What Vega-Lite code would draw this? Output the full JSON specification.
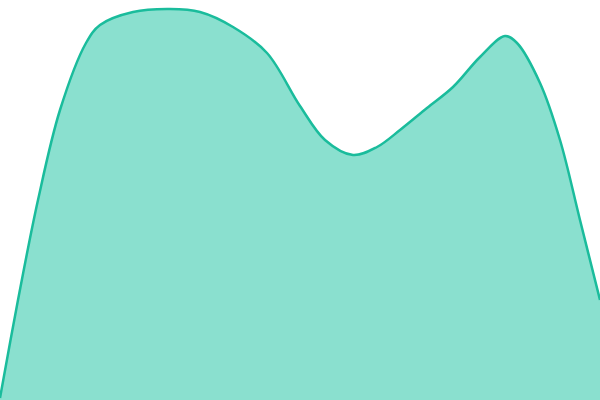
{
  "$schema": "https://vega.github.io/schema/vega-lite/v6.json",
  "autosize": {"type": "none"},
  "width": 600,
  "height": 400,
  "padding": 0,
  "background": "white",
  "config": {"view": {"stroke": null}},
  "data": {"values": [
    {"x": 0, "y": 2},
    {"x": 18, "y": 100},
    {"x": 38, "y": 200},
    {"x": 60, "y": 290},
    {"x": 86, "y": 357},
    {"x": 100, "y": 375},
    {"x": 133, "y": 388},
    {"x": 170, "y": 391},
    {"x": 200, "y": 388},
    {"x": 233, "y": 373},
    {"x": 267, "y": 347},
    {"x": 300, "y": 294},
    {"x": 325, "y": 260},
    {"x": 353, "y": 245},
    {"x": 377, "y": 253},
    {"x": 400, "y": 270},
    {"x": 427, "y": 292},
    {"x": 453, "y": 313},
    {"x": 480, "y": 343},
    {"x": 505, "y": 364},
    {"x": 517, "y": 357},
    {"x": 540, "y": 317},
    {"x": 560, "y": 260},
    {"x": 580, "y": 180},
    {"x": 600, "y": 100}
  ]},
  "mark": {"type": "area", "interpolate": "catmull-rom", "color": "#8ae0cf", "opacity": 1, "fillOpacity": 1, "line": {"color": "#1abc9c", "strokeWidth": 2.5}},
  "encoding": {
    "x": {"field": "x", "type": "quantitative", "scale": {"domain": [0, 600], "nice": false, "zero": false}, "axis": null},
    "y": {"field": "y", "type": "quantitative", "scale": {"domain": [0, 400], "nice": false}, "axis": null}
  }
}
